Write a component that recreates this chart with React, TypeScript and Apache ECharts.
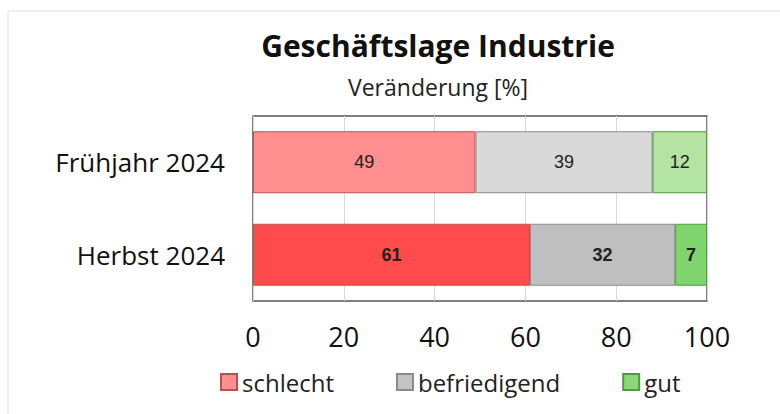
import React, { useEffect, useRef } from "react";
import * as echarts from "echarts";

const categories = ["Frühjahr 2024", "Herbst 2024"];
const seriesNames = ["schlecht", "befriedigend", "gut"];
const schlecht = [49, 61];
const befriedigend = [39, 32];
const gut = [12, 7];
const xTicks = [0, 20, 40, 60, 80, 100];

const FONT = "'Open Sans', 'Noto Sans', sans-serif";

export default function App() {
  const ref = useRef<HTMLDivElement>(null);
  useEffect(() => {
    if (!ref.current) return;
    const chart = echarts.init(ref.current, null, { renderer: "svg" });
    const colorsLight = ["#FF8F8F", "#D9D9D9", "#B3E4A3"];
    const colorsDark = ["#FF4B4B", "#BFBFBF", "#80D46E"];
    const borders = ["#C05050", "#8A8A8A", "#4E9A40"];
    const legendColors = ["#FF8F8F", "#C4C4C4", "#8DD67C"];
    const values = [schlecht, befriedigend, gut];
    const series = seriesNames.map((name, si) => ({
      name,
      type: "bar",
      stack: "total",
      barCategoryGap: "33%",
      itemStyle: { color: legendColors[si], borderColor: borders[si], borderWidth: 1 },
      data: values[si].map((v, ci) => ({
        value: v,
        itemStyle: {
          color: ci === 0 ? colorsLight[si] : colorsDark[si],
          borderColor: borders[si],
          borderWidth: 1,
        },
        label: {
          fontWeight: ci === 0 ? "normal" : "bold",
        },
      })),
      label: {
        show: true,
        position: "inside",
        color: "#222",
        fontSize: 18,
        fontFamily: "'Liberation Sans', Arial, sans-serif",
      },
    }));
    chart.setOption({
      animation: false,
      backgroundColor: "#fff",
      title: [
        {
          text: "Geschäftslage Industrie",
          left: 433,
          top: 25,
          textAlign: "center",
          textStyle: { fontFamily: FONT, fontSize: 30, fontWeight: "bold", color: "#111" },
        },
        {
          text: "Veränderung [%]",
          left: 433,
          top: 70,
          textAlign: "center",
          textStyle: { fontFamily: FONT, fontSize: 23, fontWeight: "normal", color: "#222" },
        },
      ],
      legend: {
        data: seriesNames,
        left: 220,
        top: 370,
        padding: 0,
        itemWidth: 16,
        itemHeight: 16,
        itemGap: 62,
        icon: "rect",
        textStyle: { fontFamily: FONT, fontSize: 24, color: "#222" },
      },
      grid: { left: 253, right: 73, top: 116, bottom: 113, show: true, borderColor: "#555", borderWidth: 1.5, backgroundColor: "transparent" },
      xAxis: {
        type: "value",
        min: 0,
        max: 100,
        interval: 20,
        axisLine: { show: false },
        axisTick: { show: false },
        splitLine: { show: true, lineStyle: { color: "#d9d9d9", width: 1 } },
        axisLabel: {
          fontFamily: FONT,
          fontSize: 27,
          color: "#111",
          margin: 22,
          formatter: (v: number) => (xTicks.includes(v) ? String(v) : ""),
        },
      },
      yAxis: {
        type: "category",
        inverse: true,
        data: categories,
        axisLine: { show: false },
        axisTick: { show: false },
        axisLabel: { fontFamily: FONT, fontSize: 26, color: "#111", margin: 28 },
      },
      graphic: [
        { type: "line", shape: { x1: 8, y1: 11, x2: 780, y2: 11 }, style: { stroke: "#e0e0e0", lineWidth: 1 } },
        { type: "line", shape: { x1: 8, y1: 11, x2: 8, y2: 414 }, style: { stroke: "#e0e0e0", lineWidth: 1 } },
      ],
      series,
    });
    return () => chart.dispose();
  }, []);
  return <div ref={ref} style={{ width: 780, height: 414, position: "absolute", left: 0, top: 0 }} />;
}
